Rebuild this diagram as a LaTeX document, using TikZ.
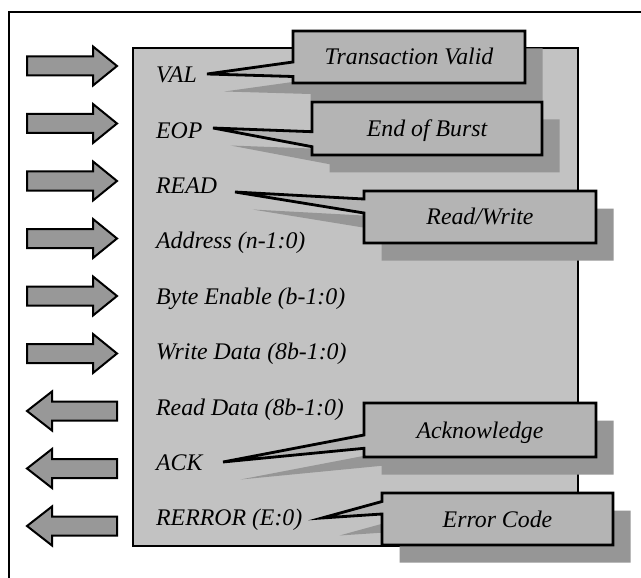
\documentclass[tikz,border=0pt]{standalone}
\usepackage{fontspec}
\setmainfont{Liberation Serif}
\definecolor{panel}{RGB}{194,194,194}
\definecolor{callfill}{RGB}{180,180,180}
\definecolor{shade}{RGB}{150,150,150}
\definecolor{portfill}{RGB}{152,152,152}
\newcommand\sigfont{\fontsize{23.8}{28}\selectfont\itshape}

\begin{document}
\begin{tikzpicture}[x=1pt,y=-1pt,
  sig/.style={anchor=base west, inner sep=0pt, font=\sigfont},
  calltext/.style={anchor=base, inner sep=0pt, font=\sigfont},
  calloutbox/.style={fill=callfill, draw=black, line width=2.8pt},
  calloutshade/.style={fill=shade},
  port/.style={fill=portfill, draw=black, line width=2pt},
  frame/.style={draw=black, line width=2pt},
  mainbox/.style={fill=panel, draw=black, line width=2.5pt}]

\useasboundingbox (0,0) rectangle (641,578);
\clip (0,0) rectangle (641,578);
\fill[white] (0,0) rectangle (641,578);

% outer frame
\draw[frame] (9.3,12) rectangle (700,700);

% interface block
\draw[mainbox] (133,48) rectangle (578,546);

% signal names
\foreach \i/\nm/\txt in {0/val/VAL, 1/eop/EOP, 2/read/READ, 3/addr/{Address (n-1:0)},
    4/be/{Byte Enable (b-1:0)}, 5/wdata/{Write Data (8b-1:0)}, 6/rdata/{Read Data (8b-1:0)},
    7/ack/ACK, 8/rerror/{RERROR (E:0)}}{
  \pgfmathsetmacro\b{82.7+55.4*\i}
  \node[sig] (\nm) at (156,\b) {\txt};
}

% inputs: arrows pointing into the block
\foreach \i in {0,...,5}{
  \pgfmathsetmacro\c{66+57.5*\i}
  \draw[port] (27,\c-9.5) -- (93,\c-9.5) -- (93,\c-19.5) -- (117,\c)
    -- (93,\c+19.5) -- (93,\c+9.5) -- (27,\c+9.5) -- cycle;
}
% outputs: arrows pointing out of the block
\foreach \i in {6,7,8}{
  \pgfmathsetmacro\c{66+57.5*\i}
  \draw[port] (117,\c-9.5) -- (52,\c-9.5) -- (52,\c-19.5) -- (27,\c)
    -- (52,\c+19.5) -- (52,\c+9.5) -- (117,\c+9.5) -- cycle;
}

% callouts: box corners, pointer base on the left edge, pointer tip, text
\foreach \xa/\ya/\xb/\yb/\bh/\bl/\tx/\ty/\nm/\txt in {
    293/31/525/83/62/76.5/207/74/cvalid/{Transaction Valid},
    312/102/542/155/131.7/146.7/213/128/ceop/{End of Burst},
    364/191/596/243/199/213/235/192/crw/{Read/Write},
    364/403/596/457/435/448.3/223/462/cack/{Acknowledge},
    382/493/613/545/501.5/514/322/518/cerr/{Error Code}}{
  \coordinate (\nm-tip) at (\tx,\ty);
  \begin{scope}[shift={(17.5,17.5)}]
    \fill[calloutshade] (\xa,\ya) -- (\xb,\ya) -- (\xb,\yb) -- (\xa,\yb)
      -- (\xa,\bl) -- (\tx,\ty) -- (\xa,\bh) -- cycle;
  \end{scope}
  \draw[calloutbox] (\xa,\ya) -- (\xb,\ya) -- (\xb,\yb) -- (\xa,\yb)
    -- (\xa,\bl) -- (\nm-tip) -- (\xa,\bh) -- cycle;
  \pgfmathsetmacro\cx{(\xa+\xb)/2}
  \pgfmathsetmacro\cy{(\ya+\yb)/2+8}
  \node[calltext] (\nm) at (\cx,\cy) {\txt};
}
\end{tikzpicture}
\end{document}
